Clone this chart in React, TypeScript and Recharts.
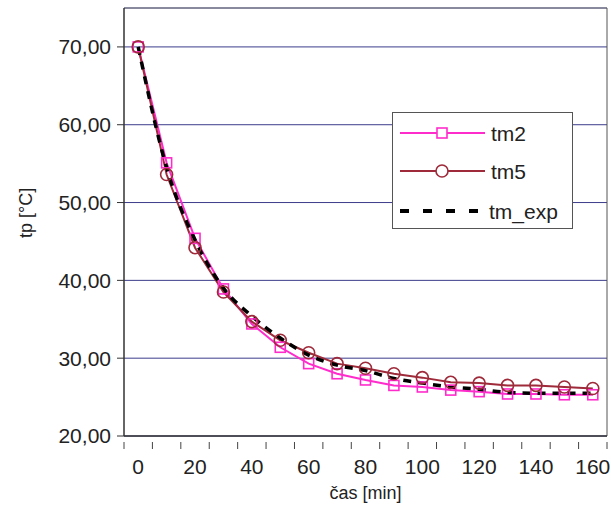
import React from 'react';
import { LineChart, Line, XAxis, YAxis, CartesianGrid, ReferenceLine } from 'recharts';

const times = [0, 10, 20, 30, 40, 50, 60, 70, 80, 90, 100, 110, 120, 130, 140, 150, 160];
const tm2 = [70.0, 55.1, 45.4, 38.9, 34.4, 31.4, 29.3, 28.0, 27.2, 26.5, 26.3, 25.9, 25.7, 25.4, 25.4, 25.3, 25.3];
const tm5 = [70.0, 53.6, 44.2, 38.5, 34.7, 32.3, 30.7, 29.3, 28.7, 28.0, 27.5, 26.9, 26.8, 26.5, 26.5, 26.3, 26.1];
const tmExp = [70.0, 54.5, 45.2, 39.0, 35.4, 32.6, 30.4, 29.1, 28.4, 27.4, 26.8, 26.3, 26.0, 25.6, 25.5, 25.5, 25.5];

const yTicks = [20, 30, 40, 50, 60, 70];
const xLabels = [0, 20, 40, 60, 80, 100, 120, 140, 160];
const xBounds = [-5, 5, 15, 25, 35, 45, 55, 65, 75, 85, 95, 105, 115, 125, 135, 145, 155, 165];

const data = times.map((t, i) => ({ t, tm2: tm2[i], tm5: tm5[i], tm_exp: tmExp[i] }));

const PINK = '#ff2ccc';
const RED = '#9e2a3a';
const FONT = '"Liberation Sans", Arial, sans-serif';

const SquareDot = (props: any) => {
    const { cx, cy, index } = props;
    if (cx == null || cy == null) return null;
    return <rect key={`s-${index}`} x={cx - 5} y={cy - 5} width={10} height={10} fill="none" stroke={PINK} strokeWidth={1.6} />;
};

const CircleDot = (props: any) => {
    const { cx, cy, index } = props;
    if (cx == null || cy == null) return null;
    return <circle key={`c-${index}`} cx={cx} cy={cy} r={6} fill="none" stroke={RED} strokeWidth={1.6} />;
};

const XTick = (props: any) => {
    const { x, y, payload } = props;
    const v = payload.value;
    if (xLabels.includes(v)) {
        return (
            <text x={x} y={y + 30} textAnchor="middle" fontSize={21} fill="#222" fontFamily={FONT}>{v}</text>
        );
    }
    return <line x1={x} y1={y - 2} x2={x} y2={y + 5} stroke="#444" strokeWidth={1} />;
};

// legend drawn as an overlay box, like the original
const LegendBox = () => (
    <div style={{
        position: 'absolute', left: 392, top: 112, width: 181, height: 117,
        border: '1px solid #555', background: '#fff', boxSizing: 'border-box'
    }}>
        <svg width={179} height={115} style={{ display: 'block' }}>
            <line x1={7} y1={20} x2={92} y2={20} stroke={PINK} strokeWidth={2} />
            <rect x={44} y={15} width={10} height={10} fill="#fff" stroke={PINK} strokeWidth={1.6} />
            <text x={98} y={28} fontSize={21} fill="#222" fontFamily={FONT}>tm2</text>
            <line x1={7} y1={58} x2={92} y2={58} stroke={RED} strokeWidth={2} />
            <circle cx={49} cy={58} r={6} fill="#fff" stroke={RED} strokeWidth={1.6} />
            <text x={98} y={66} fontSize={21} fill="#222" fontFamily={FONT}>tm5</text>
            <line x1={7} y1={98} x2={92} y2={98} stroke="#000" strokeWidth={4} strokeDasharray="9 14" />
            <text x={96} y={106} fontSize={21} fill="#222" fontFamily={FONT}>tm_exp</text>
        </svg>
    </div>
);

export default function App() {
    return (
        <div style={{ position: 'absolute', left: 0, top: 0, width: 611, height: 506, background: '#fff' }}>
            <LineChart width={611} height={506} data={data} margin={{ top: 8, right: 4, left: 0, bottom: 0 }}>
                <CartesianGrid horizontal={true} vertical={false} stroke="#3c3c8c" strokeWidth={1} />
                <XAxis
                    dataKey="t" type="number" domain={[-5, 165]}
                    ticks={[...xBounds, ...xLabels].sort((a, b) => a - b)}
                    interval={0} tickLine={false} tick={<XTick />}
                    axisLine={{ stroke: '#333', strokeWidth: 1.5 }} height={70}
                    label={{ value: 'čas [min]', position: 'insideBottom', offset: 7, fontSize: 18, fill: '#222', fontFamily: FONT }}
                />
                <YAxis
                    type="number" domain={[20, 75]} ticks={yTicks} interval={0} width={124}
                    tickFormatter={(v: number) => v.toFixed(2).replace('.', ',')}
                    tick={{ fontSize: 21, fill: '#222', fontFamily: FONT }}
                    tickLine={{ stroke: '#333' }} tickSize={7} tickMargin={6}
                    axisLine={{ stroke: '#333', strokeWidth: 1.5 }}
                    label={{ value: 'tp [°C]', angle: -90, position: 'insideLeft', offset: 26, dy: 16, fontSize: 18, fill: '#222', fontFamily: FONT }}
                />
                <ReferenceLine y={75} stroke="#777" strokeWidth={1} />
                <ReferenceLine x={165} stroke="#555" strokeWidth={1} />
                <Line dataKey="tm2" type="linear" stroke={PINK} strokeWidth={2} dot={<SquareDot />} isAnimationActive={false} />
                <Line dataKey="tm5" type="linear" stroke={RED} strokeWidth={2} dot={<CircleDot />} isAnimationActive={false} />
                <Line dataKey="tm_exp" type="monotone" stroke="#000" strokeWidth={3.5} strokeDasharray="8 7" dot={false} isAnimationActive={false} />
            </LineChart>
            <LegendBox />
        </div>
    );
}
